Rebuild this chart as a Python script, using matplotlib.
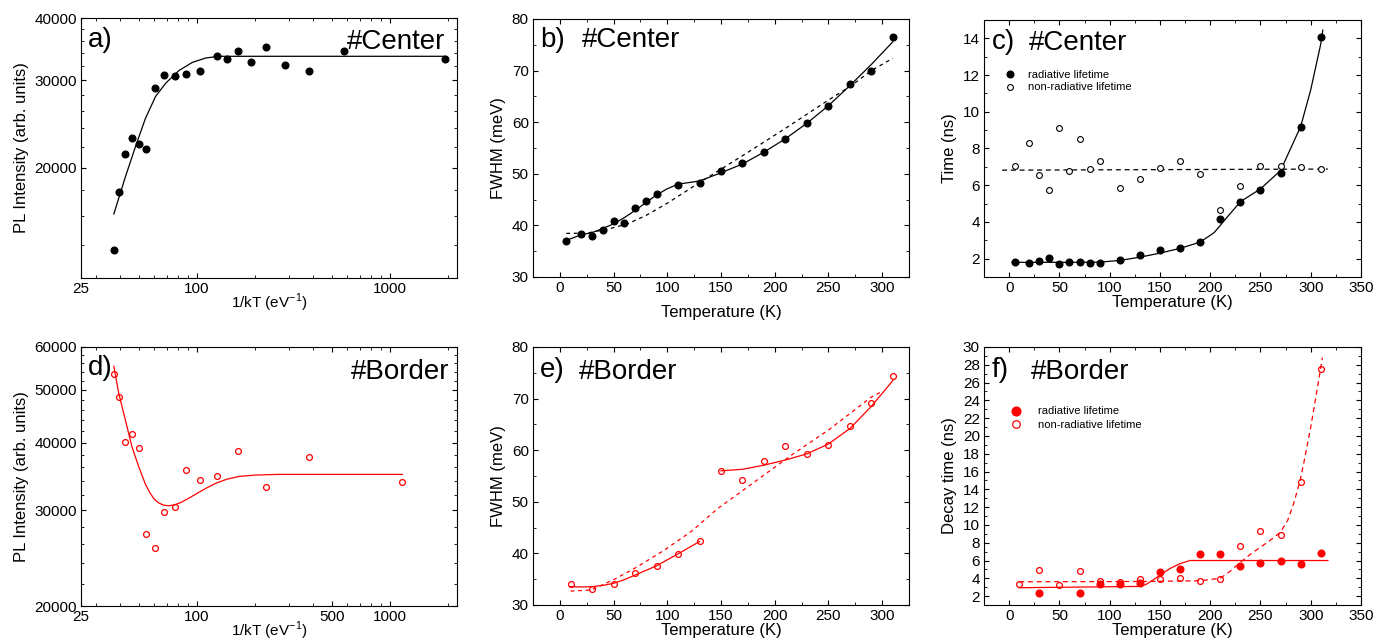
import numpy as np
import matplotlib
matplotlib.use("Agg")
import matplotlib.pyplot as plt
from matplotlib.ticker import FixedLocator, NullFormatter, MultipleLocator, LogLocator

plt.rcParams['font.family'] = ['Liberation Sans', 'DejaVu Sans']
plt.rcParams['mathtext.fontset'] = 'custom'
plt.rcParams['mathtext.rm'] = 'Liberation Sans'

RED = '#ff0000'

# ---- data ----
# a) #Center, integrated PL vs 1/kT
invkT_center = [37.0, 39.5, 42.4, 45.7, 49.9, 54.5, 60.2, 67.3, 76.5, 88.0,
                104, 127.6, 143, 163.5, 191, 228.6, 287, 383, 575.6, 1927]
pl_center = [13650, 17890, 21310, 22900, 22320, 21810, 28940, 30740, 30640, 30920,
             31310, 33480, 33120, 34370, 32660, 35020, 32130, 31270, 34370, 33120]
fit_a_x = [37.0, 42.5, 47.9, 54.0, 60.9, 68.7, 80.6, 94.6, 111, 130, 160, 1930]
fit_a_y = [16140, 19180, 22040, 25140, 27810, 29570, 31370, 32570, 33240, 33500, 33500, 33500]

# b) #Center, FWHM vs T
T_center = [6, 20, 30, 40, 50, 60, 70, 80, 90, 110, 130, 150, 170, 190, 210, 230, 250, 270, 290, 310]
fwhm_center = [36.97, 38.32, 37.94, 39.03, 40.77, 40.52, 43.35, 44.77, 46.0, 47.87,
               48.19, 50.45, 52.0, 54.26, 56.71, 59.87, 63.23, 67.48, 69.94, 76.52]
fit_b_T = [6, 20, 30, 40, 50, 60, 70, 80, 90, 100, 110, 130, 150, 170, 190, 210, 230, 250, 270, 290, 310]
fit_b_y = [37.1, 38.2, 38.6, 39.4, 40.3, 41.5, 42.9, 44.4, 45.9, 47.1, 48.0, 48.6, 50.2, 51.9,
           54.2, 56.8, 59.8, 63.2, 67.1, 71.2, 75.6]
dash_b_T = [6, 25, 45, 63, 80, 100, 130, 170, 210, 250, 270, 290, 310]
dash_b_y = [38.45, 38.5, 39.3, 40.3, 41.9, 44.3, 48.3, 53.5, 58.8, 64.3, 66.9, 70.0, 72.4]

# c) #Center, lifetimes
rad_center = [1.80, 1.75, 1.89, 2.05, 1.69, 1.84, 1.80, 1.77, 1.77, 1.93,
              2.18, 2.47, 2.58, 2.90, 4.16, 5.10, 5.75, 6.67, 9.17, 14.05]
nonrad_center = [7.03, 8.29, 6.54, 5.73, 9.14, 6.77, 8.54, 6.90, 7.30, 5.86,
                 6.36, 6.92, 7.30, 6.63, 4.63, 5.93, 7.06, 7.03, 6.97, 6.90]
fit_c_T = [3, 30, 60, 90, 110, 130, 150, 170, 190, 204, 215, 230, 250, 270, 290, 300, 310, 312]
fit_c_y = [1.80, 1.80, 1.80, 1.81, 1.90, 2.08, 2.30, 2.56, 2.90, 3.42, 4.14, 5.1, 5.8, 6.8,
           9.2, 11.2, 13.7, 14.45]
dash_c_T = [-7, 317]
dash_c_y = [6.82, 6.88]

# d) #Border, integrated PL vs 1/kT
invkT_border = [37.0, 39.5, 42.4, 45.7, 49.9, 54.5, 60.2, 67.3, 76.5, 88.0,
                104, 127.6, 163.5, 228.6, 383, 1155]
pl_border = [53580, 48610, 40150, 41400, 39140, 27160, 25570, 29750, 30470, 35600,
             34170, 34710, 38600, 33070, 37620, 33790]
fit_d_x = [37.0, 39.3, 42.5, 46.0, 49.9, 54.0, 57.0, 60.0, 63.5, 67, 71, 76, 82, 90, 100,
           112, 126, 143, 165, 200, 260, 1160]
fit_d_y = [55280, 49200, 43960, 39240, 36060, 33500, 32300, 31450, 30950, 30680, 30600,
           30700, 31000, 31550, 32250, 33000, 33700, 34250, 34650, 34850, 34950, 34950]

# e) #Border, FWHM vs T
T_border = [10, 30, 50, 70, 90, 110, 130, 150, 170, 190, 210, 230, 250, 270, 290, 310]
fwhm_border = [34.06, 33.03, 34.06, 36.13, 37.55, 39.94, 42.32, 56.0, 54.19, 57.87,
               60.77, 59.29, 61.03, 64.65, 69.10, 74.45]
fit_e1_T = [10, 20, 30, 40, 50, 60, 70, 90, 110, 130]
fit_e1_y = [33.55, 33.5, 33.55, 33.8, 34.2, 34.9, 35.8, 37.6, 39.9, 42.3]
fit_e2_T = [150, 170, 190, 210, 230, 250, 270, 290, 310]
fit_e2_y = [56.0, 56.3, 57.1, 58.1, 59.3, 61.2, 64.2, 68.5, 73.5]
dash_e_T = [10, 29, 51, 72, 97, 122, 147, 171, 196, 218, 250, 270, 290, 300]
dash_e_y = [32.7, 32.9, 35.0, 37.4, 40.6, 44.2, 48.7, 52.3, 56.1, 59.4, 63.9, 67.1, 70.3, 71.4]

# f) #Border, lifetimes
T_border_rad = [30, 70, 90, 110, 130, 150, 170, 190, 210, 230, 250, 270, 290, 310]
rad_border = [2.34, 2.34, 3.33, 3.38, 3.42, 4.74, 5.04, 6.72, 6.72, 5.41, 5.71, 5.90, 5.56, 6.84]
nonrad_border = [3.31, 4.89, 3.28, 4.81, 3.65, 3.58, 3.87, 3.88, 4.03, 3.73,
                 3.95, 7.62, 9.31, 8.82, 14.82, 27.56]
fit_f_T = [10, 130, 136, 143, 150, 160, 170, 180, 317]
fit_f_y = [2.94, 3.09, 3.3, 3.8, 4.35, 5.1, 5.65, 6.0, 6.0]
dash_f_T = [10, 100, 150, 190, 210, 220, 230, 240, 250, 260, 270, 277, 283, 289, 293, 300, 305, 311.6]
dash_f_y = [3.61, 3.63, 3.66, 3.73, 4.0, 4.8, 5.8, 6.7, 7.5, 8.3, 9.2, 10.5, 12.4, 14.8,
            16.9, 21.0, 24.3, 28.8]

# ---- figure ----
W, H = 1389, 644
fig = plt.figure(figsize=(W / 100, H / 100), dpi=100)


def box(l, t, r, b):
    return fig.add_axes([l / W, 1 - b / H, (r - l) / W, (b - t) / H])


def style(ax):
    ax.tick_params(which='both', direction='in', top=True, right=True, labelsize=11)
    ax.tick_params(which='major', length=3.5, width=0.8, pad=3)
    ax.tick_params(which='minor', length=2, width=0.6)
    for s in ax.spines.values():
        s.set_linewidth(0.8)


def tags(ax, letter, lx, ly, name, nx, ny, ha='left'):
    ax.text(lx, ly, letter, transform=ax.transAxes, fontsize=20, va='center', ha='left')
    ax.text(nx, ny, name, transform=ax.transAxes, fontsize=20, va='center', ha=ha)


xlab_kT = r'1/kT (eV$^{\mathregular{-1}}$)'
LAB = 12
ms_fill = 4.8
ms_open = 4.2

# a)
ax = box(81, 18, 457, 278)
ax.set_xscale('log')
ax.set_yscale('log')
ax.plot(fit_a_x, fit_a_y, color='k', lw=0.9)
ax.plot(invkT_center, pl_center, 'o', color='k', ms=ms_fill)
ax.set_xlim(25, 2230)
ax.set_ylim(12000, 40000)
ax.xaxis.set_major_locator(FixedLocator([25, 100, 1000]))
ax.set_xticklabels(['25', '100', '1000'])
ax.xaxis.set_minor_locator(LogLocator(subs=np.arange(2, 10)))
ax.xaxis.set_minor_formatter(NullFormatter())
ax.yaxis.set_major_locator(FixedLocator([20000, 30000, 40000]))
ax.set_yticklabels(['20000', '30000', '40000'])
ax.yaxis.set_minor_locator(FixedLocator(np.arange(12000, 40001, 2000)))
ax.yaxis.set_minor_formatter(NullFormatter())
ax.set_xlabel(xlab_kT, fontsize=11, labelpad=-3)
ax.set_ylabel('PL Intensity (arb. units)', fontsize=LAB)
style(ax)
tags(ax, 'a)', 0.019, 0.915, '#Center', 0.968, 0.909, ha='right')

# b)
ax = box(533, 19, 909, 277)
ax.plot(fit_b_T, fit_b_y, color='k', lw=0.9)
ax.plot(dash_b_T, dash_b_y, color='k', lw=0.9, ls=(0, (3, 3)))
ax.plot(T_center, fwhm_center, 'o', color='k', ms=ms_fill)
ax.set_xlim(-25, 325)
ax.set_ylim(30, 80)
ax.xaxis.set_major_locator(MultipleLocator(50))
ax.xaxis.set_minor_locator(MultipleLocator(25))
ax.yaxis.set_major_locator(MultipleLocator(10))
ax.yaxis.set_minor_locator(MultipleLocator(5))
ax.set_xlabel('Temperature (K)', fontsize=LAB, labelpad=7)
ax.set_ylabel('FWHM (meV)', fontsize=LAB)
style(ax)
tags(ax, 'b)', 0.019, 0.919, '#Center', 0.13, 0.919)

# c)
ax = box(984, 20, 1361, 277)
ax.plot(fit_c_T, fit_c_y, color='k', lw=0.9)
ax.plot(dash_c_T, dash_c_y, color='k', lw=0.9, ls=(0, (4, 3)))
ax.plot(T_center, rad_center, 'o', color='k', ms=ms_fill, label='radiative lifetime')
ax.plot(T_center, nonrad_center, 'o', mfc='white', mec='k', mew=0.8, ms=ms_open,
        label='non-radiative lifetime')
ax.set_xlim(-25, 350)
ax.set_ylim(1, 15)
ax.xaxis.set_major_locator(MultipleLocator(50))
ax.xaxis.set_minor_locator(MultipleLocator(25))
ax.yaxis.set_major_locator(MultipleLocator(2))
ax.yaxis.set_minor_locator(MultipleLocator(1))
ax.set_xlabel('Temperature (K)', fontsize=LAB, labelpad=0)
ax.set_ylabel('Time (ns)', fontsize=LAB)
style(ax)
tags(ax, 'c)', 0.02, 0.916, '#Center', 0.118, 0.909)
ax.legend(loc='upper left', bbox_to_anchor=(0.039, 0.826), frameon=False, fontsize=8,
          handlelength=1.0, handletextpad=1.15, labelspacing=0.2, borderpad=0)

# d)
ax = box(81, 347, 457, 606)
ax.set_xscale('log')
ax.set_yscale('log')
ax.plot(fit_d_x, fit_d_y, color=RED, lw=0.9)
ax.plot(invkT_border, pl_border, 'o', mfc='none', mec=RED, mew=0.9, ms=ms_open)
ax.set_xlim(25, 2230)
ax.set_ylim(20000, 60000)
ax.xaxis.set_major_locator(FixedLocator([25, 100, 500, 1000]))
ax.set_xticklabels(['25', '100', '500', '1000'])
ax.xaxis.set_minor_locator(LogLocator(subs=np.arange(2, 10)))
ax.xaxis.set_minor_formatter(NullFormatter())
ax.yaxis.set_major_locator(FixedLocator([20000, 30000, 40000, 50000, 60000]))
ax.set_yticklabels(['20000', '30000', '40000', '50000', '60000'])
ax.yaxis.set_minor_locator(FixedLocator(np.arange(20000, 60001, 2000)))
ax.yaxis.set_minor_formatter(NullFormatter())
ax.set_xlabel(xlab_kT, fontsize=11, labelpad=-3)
ax.set_ylabel('PL Intensity (arb. units)', fontsize=LAB)
style(ax)
tags(ax, 'd)', 0.019, 0.918, '#Border', 0.979, 0.905, ha='right')

# e)
ax = box(533, 347, 909, 605)
ax.plot(fit_e1_T, fit_e1_y, color=RED, lw=0.9)
ax.plot(fit_e2_T, fit_e2_y, color=RED, lw=0.9)
ax.plot(dash_e_T, dash_e_y, color=RED, lw=0.9, ls=(0, (3, 3)))
ax.plot(T_border, fwhm_border, 'o', mfc='none', mec=RED, mew=0.9, ms=ms_open)
ax.set_xlim(-25, 325)
ax.set_ylim(30, 80)
ax.xaxis.set_major_locator(MultipleLocator(50))
ax.xaxis.set_minor_locator(MultipleLocator(25))
ax.yaxis.set_major_locator(MultipleLocator(10))
ax.yaxis.set_minor_locator(MultipleLocator(5))
ax.set_xlabel('Temperature (K)', fontsize=LAB, labelpad=0)
ax.set_ylabel('FWHM (meV)', fontsize=LAB)
style(ax)
tags(ax, 'e)', 0.019, 0.911, '#Border', 0.122, 0.905)

# f)
ax = box(984, 347, 1361, 605)
ax.plot(fit_f_T, fit_f_y, color=RED, lw=0.9)
ax.plot(dash_f_T, dash_f_y, color=RED, lw=0.9, ls=(0, (4, 3)))
ax.plot(T_border_rad, rad_border, 'o', color=RED, ms=ms_fill, label='radiative lifetime')
ax.plot(T_border, nonrad_border, 'o', mfc='none', mec=RED, mew=0.9, ms=ms_open,
        label='non-radiative lifetime')
ax.set_xlim(-25, 350)
ax.set_ylim(1, 30)
ax.xaxis.set_major_locator(MultipleLocator(50))
ax.xaxis.set_minor_locator(MultipleLocator(25))
ax.yaxis.set_major_locator(MultipleLocator(2))
ax.yaxis.set_minor_locator(MultipleLocator(1))
ax.set_xlabel('Temperature (K)', fontsize=LAB, labelpad=0)
ax.set_ylabel('Decay time (ns)', fontsize=LAB)
style(ax)
tags(ax, 'f)', 0.02, 0.911, '#Border', 0.125, 0.905)
ax.legend(loc='upper left', bbox_to_anchor=(0.056, 0.791), frameon=False, fontsize=8,
          handlelength=1.0, handletextpad=1.45, labelspacing=0.3, borderpad=0, markerscale=1.3)

fig.savefig('out.png', dpi=100)
